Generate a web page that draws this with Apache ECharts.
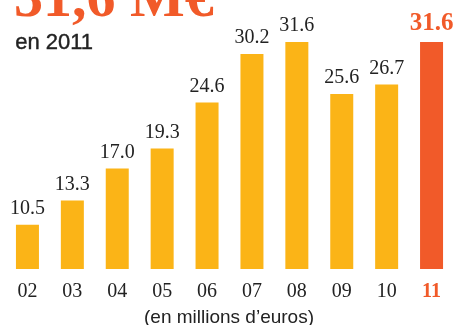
<!DOCTYPE html>
<html>
<head>
<meta charset="utf-8">
<script src="https://cdn.jsdelivr.net/npm/echarts@6/dist/echarts.min.js"></script>
<style>
  html, body { margin: 0; padding: 0; background: #fff; }
  #chart { width: 458px; height: 325px; }
</style>
</head>
<body>
<div id="chart"></div>
<script>
// Chiffre d'affaires annuel (en millions d'euros)
const years = ['02', '03', '04', '05', '06', '07', '08', '09', '10', '11'];
const revenue = [10.5, 13.3, 17.0, 19.3, 24.6, 30.2, 31.6, 25.6, 26.7, 31.6];
const headline = '31,6 M€';
const subtitle = 'en 2011';
const unitNote = '(en millions d\u2019euros)';

const YELLOW = '#FBB417';
const ORANGE = '#F15A29';
const TEXT = '#222222';
const SERIF = '"Liberation Serif", "DejaVu Serif", serif';
const SANS = '"Liberation Sans", Arial, sans-serif';

const lastIdx = years.length - 1;

const seriesData = revenue.map((v, i) => {
  if (i !== lastIdx) return { value: v };
  return {
    value: v,
    itemStyle: { color: ORANGE },
    label: { color: ORANGE, fontWeight: 'bold', fontSize: 25 }
  };
});

const chart = echarts.init(document.getElementById('chart'), null, { renderer: 'canvas' });

chart.setOption({
  animation: false,
  grid: { left: 5, right: 4, top: 9, bottom: 56, containLabel: false },
  xAxis: {
    type: 'category',
    data: years,
    axisLine: { show: false },
    axisTick: { show: false },
    axisLabel: {
      interval: 0,
      margin: 13,
      fontFamily: SERIF,
      fontSize: 20,
      color: TEXT,
      formatter: (v, i) => (i === lastIdx ? '{hl|' + v + '}' : v),
      rich: {
        hl: { fontFamily: SERIF, fontSize: 20, fontWeight: 'bold', color: ORANGE }
      }
    }
  },
  yAxis: {
    type: 'value',
    min: 5.4,
    max: 35.4,
    show: false,
    splitLine: { show: false }
  },
  series: [{
    type: 'bar',
    data: seriesData,
    barWidth: 23,
    itemStyle: { color: YELLOW },
    label: {
      show: true,
      position: 'top',
      distance: 6,
      fontFamily: SERIF,
      fontSize: 20,
      color: TEXT,
      formatter: p => p.value.toFixed(1)
    }
  }],
  graphic: [
    {
      type: 'text',
      left: 14,
      top: -28,
      style: {
        text: headline,
        font: 'bold 58px ' + SERIF,
        fill: ORANGE
      }
    },
    {
      type: 'text',
      left: 15,
      top: 32,
      style: {
        text: subtitle,
        font: '22px ' + SANS,
        fill: TEXT,
        stroke: TEXT,
        lineWidth: 0.4
      }
    },
    {
      type: 'text',
      left: 'center',
      top: 308,
      style: {
        text: unitNote,
        font: '19px ' + SANS,
        fill: TEXT
      }
    }
  ]
});
</script>
</body>
</html>
